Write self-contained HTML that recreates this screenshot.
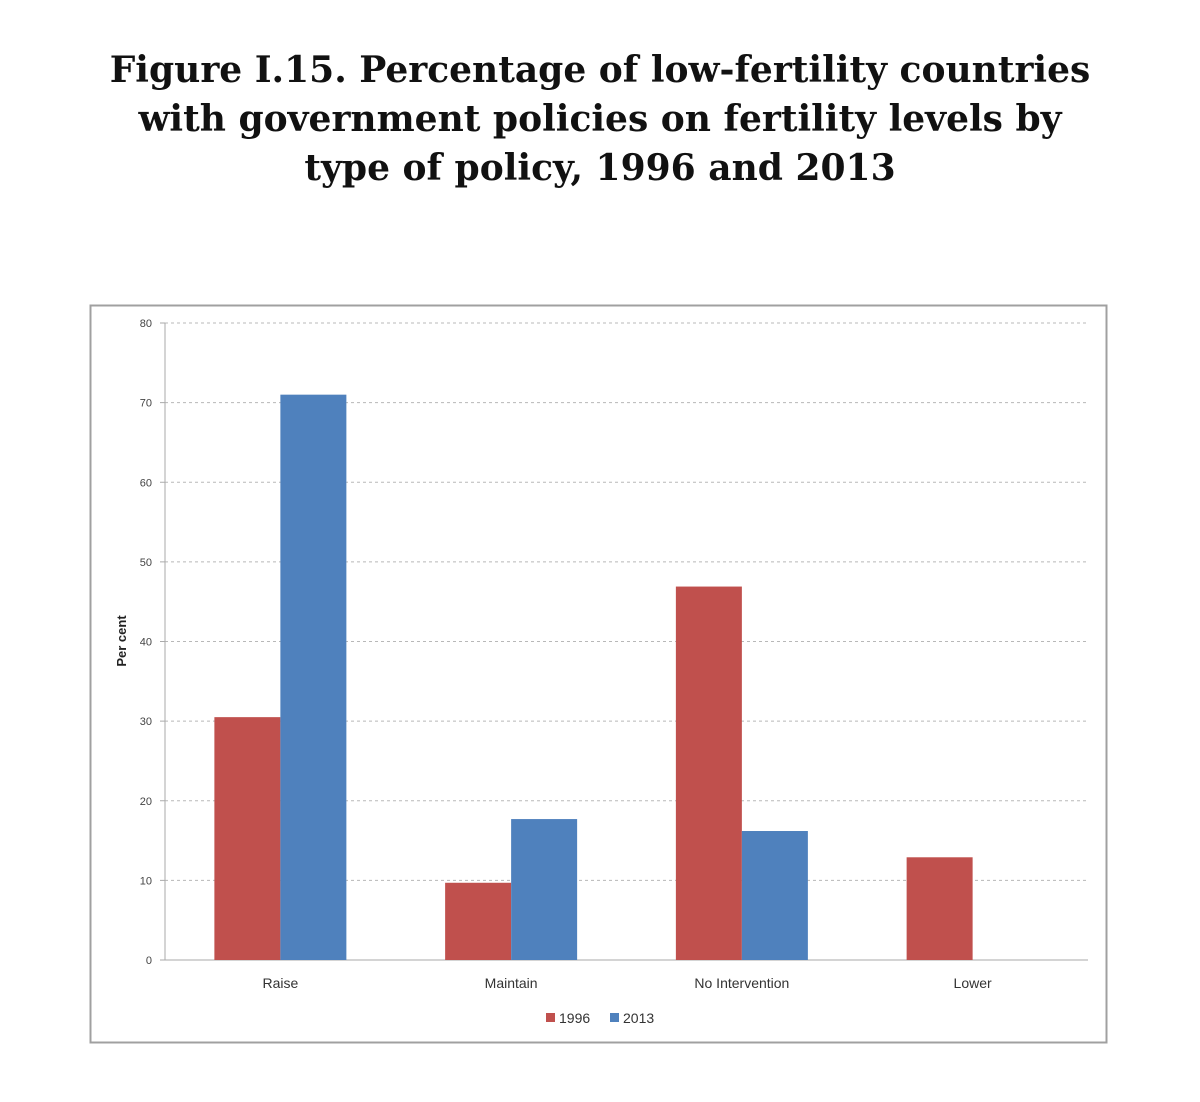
<!DOCTYPE html>
<html><head><meta charset="utf-8"><style>
body{margin:0;background:#fff;width:1200px;height:1102px;overflow:hidden}
h1{position:absolute;left:0;top:46px;width:1200px;margin:0;text-align:center;font-family:"DejaVu Serif","Liberation Serif",serif;font-weight:bold;font-size:36px;line-height:49px;color:#111;letter-spacing:0}
svg{position:absolute;left:0;top:0}
</style></head><body>
<h1>Figure I.15. Percentage of low-fertility countries<br>with government policies on fertility levels by<br>type of policy, 1996 and 2013</h1>
<svg width="1200" height="1102" font-family="Liberation Sans, DejaVu Sans, sans-serif">
<rect x="90.5" y="305.5" width="1016" height="737" fill="#fff" stroke="#a0a0a0" stroke-width="2"/>
<g id="grid"></g><g id="bars"></g>
<text x="126" y="641" transform="rotate(-90 126 641)" text-anchor="middle" font-size="13" font-weight="bold" fill="#222">Per cent</text>
<g>
<rect x="546" y="1013" width="9" height="9" fill="#c0504d"/>
<text x="559" y="1023" font-size="14" fill="#333">1996</text>
<rect x="610" y="1013" width="9" height="9" fill="#4f81bd"/>
<text x="623" y="1023" font-size="14" fill="#333">2013</text>
</g>
</svg>
<script>
const categories=["Raise","Maintain","No Intervention","Lower"];
const values1996=[30.5,9.7,46.9,12.9];
const values2013=[71,17.7,16.2,0];
const yTicks=[0,10,20,30,40,50,60,70,80];
const NS="http://www.w3.org/2000/svg";
const x0=165,x1=1088,y0=960,yTop=323,yMax=80;
const y=v=>y0-(v/yMax)*(y0-yTop);
const bw=(x1-x0)/categories.length;
const cx=i=>x0+bw*(i+0.5);
function mk(t,a,p){const e=document.createElementNS(NS,t);for(const k in a)e.setAttribute(k,a[k]);p.appendChild(e);return e;}
const g=document.getElementById('grid'),b=document.getElementById('bars');
yTicks.forEach(v=>{
 if(v>0){const l=mk('line',{x1:x0,x2:x1,y1:y(v),y2:y(v),stroke:'#b8b8b8','stroke-dasharray':'3,3'},g);
 
 }
 const tk=mk('line',{x1:x0-5,x2:x0,y1:y(v),y2:y(v),stroke:'#aaa'},g);
 
 
 const t=mk('text',{x:152,y:y(v)+4,'text-anchor':'end','font-size':11,fill:'#444'},g);t.textContent=v;
 
 
});
const ax=mk('line',{x1:x0,x2:x0,y1:yTop,y2:y0,stroke:'#aaa'},g);


const xa=mk('line',{x1:x0,x2:x1,y1:y0,y2:y0,stroke:'#aaa'},g);


const w=66;
categories.forEach((c,i)=>{
 const r1=mk('rect',{x:cx(i)-w,y:y(values1996[i]),width:w,height:y0-y(values1996[i]),fill:'#c0504d'},b);
 
 
 const r2=mk('rect',{x:cx(i),y:y(values2013[i]),width:w,height:y0-y(values2013[i]),fill:'#4f81bd'},b);
 
 
 const t=mk('text',{x:cx(i),y:988,'text-anchor':'middle','font-size':14,fill:'#333'},b);t.textContent=c;
 
 
});
</script>
</body></html>
